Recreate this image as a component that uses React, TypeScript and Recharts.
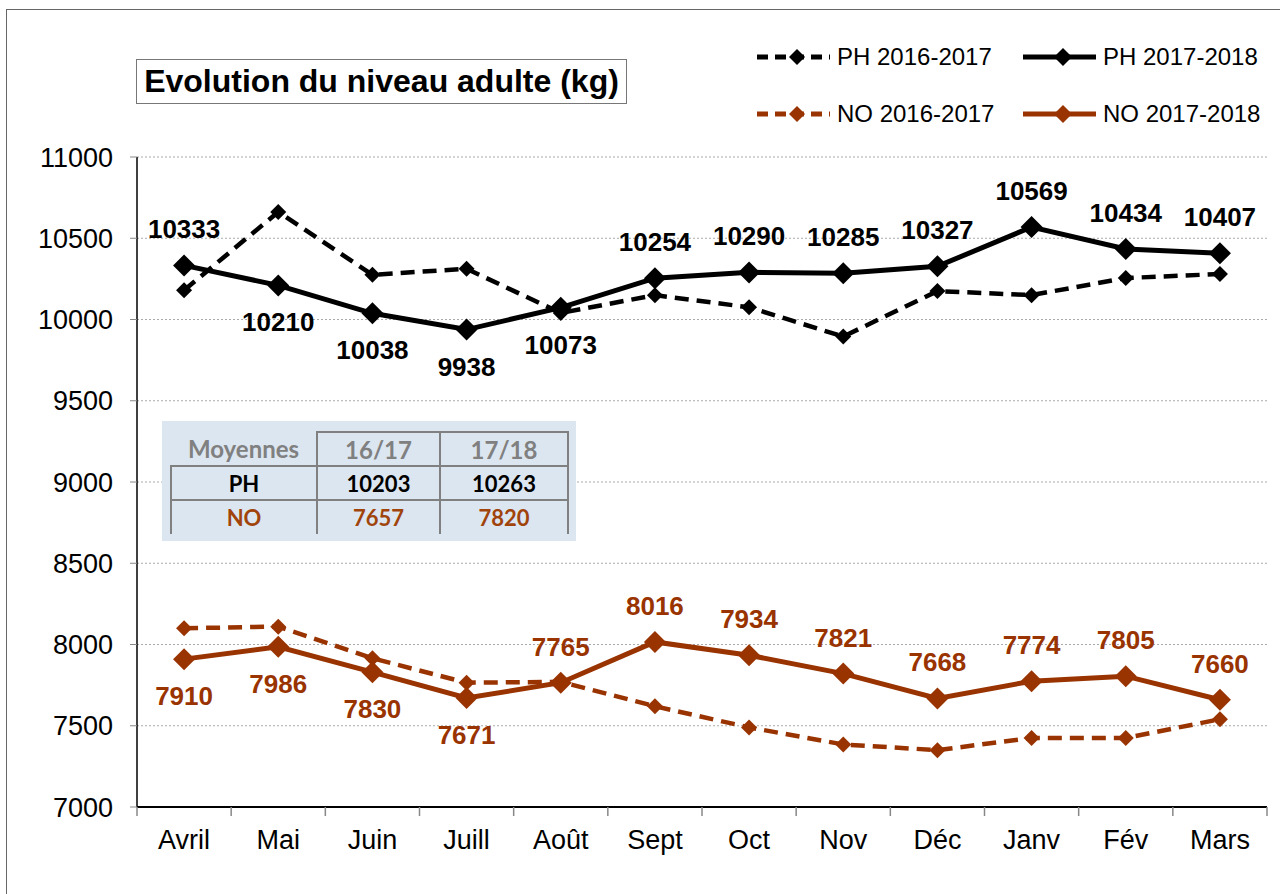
import { LineChart, Line, XAxis, YAxis, CartesianGrid, LabelList, Legend } from 'recharts'

const MONTHS = ['Avril', 'Mai', 'Juin', 'Juill', 'Août', 'Sept', 'Oct', 'Nov', 'Déc', 'Janv', 'Fév', 'Mars']

const PH_2016 = [10180, 10662, 10275, 10312, 10040, 10150, 10075, 9895, 10175, 10150, 10255, 10280]
const PH_2017 = [10333, 10210, 10038, 9938, 10073, 10254, 10290, 10285, 10327, 10569, 10434, 10407]
const NO_2016 = [8100, 8110, 7915, 7765, 7770, 7620, 7490, 7385, 7350, 7425, 7425, 7540]
const NO_2017 = [7910, 7986, 7830, 7671, 7765, 8016, 7934, 7821, 7668, 7774, 7805, 7660]

const Y_TICKS = [7000, 7500, 8000, 8500, 9000, 9500, 10000, 10500, 11000]

const AVG_HEAD = ['Moyennes', '16/17', '17/18']
const AVG_PH = [10203, 10263]
const AVG_NO = [7657, 7820]

// which points get their label under the marker
const PH_BELOW = [1, 2, 3, 4]
const NO_BELOW = [0, 1, 2, 3]

const BROWN = '#993300'
const W = 1280
const H = 894
const M = { top: 157, right: 13, bottom: 27, left: 0 }
const Y_W = 137
const X_H = 60
const BAND = (W - M.left - Y_W - M.right) / MONTHS.length

const SERIES = [
  { key: 'ph16', name: 'PH 2016-2017', color: '#000', dashed: true },
  { key: 'ph17', name: 'PH 2017-2018', color: '#000', dashed: false },
  { key: 'no16', name: 'NO 2016-2017', color: BROWN, dashed: true },
  { key: 'no17', name: 'NO 2017-2018', color: BROWN, dashed: false },
]

const data = MONTHS.map((m, i) => ({
  month: m,
  ph16: PH_2016[i],
  ph17: PH_2017[i],
  no16: NO_2016[i],
  no17: NO_2017[i],
}))

const FONT = '"Liberation Sans", Arial, sans-serif'

const diamond = (r: number, color: string) => (props: any) => {
  const { cx, cy, index } = props
  if (cx == null || cy == null) return <g key={index} />
  return <path key={index} d={`M${cx},${cy - r}L${cx + r},${cy}L${cx},${cy + r}L${cx - r},${cy}Z`} fill={color} />
}

const valueLabel = (color: string, below: number[]) => (props: any) => {
  const { x, y, value, index } = props
  const dy = below.includes(index) ? 46 : -27
  return (
    <text key={index} x={x} y={y + dy} textAnchor="middle" fill={color} fontSize={26} fontWeight="bold" fontFamily={FONT}>
      {value}
    </text>
  )
}

function MonthTick(props: any) {
  const { x, y, payload, index } = props
  const left = x - BAND / 2
  return (
    <g>
      <line x1={left} y1={y} x2={left} y2={y + 9} stroke="#888" strokeWidth={1.5} />
      {index === MONTHS.length - 1 && (
        <line x1={x + BAND / 2} y1={y} x2={x + BAND / 2} y2={y + 9} stroke="#888" strokeWidth={1.5} />
      )}
      <text x={x} y={y + 42} textAnchor="middle" fill="#000" fontSize={27} fontFamily={FONT}>
        {payload.value}
      </text>
    </g>
  )
}

function LegendBox() {
  return (
    <div style={{ display: 'grid', gridTemplateColumns: '266px 240px', rowGap: 23, fontFamily: FONT }}>
      {SERIES.map((s) => {
        const r = s.dashed ? 8 : 9
        return (
          <div key={s.key} style={{ display: 'flex', alignItems: 'center', height: 34 }}>
            <svg width={74} height={20}>
              <line x1={0} y1={10} x2={73} y2={10} stroke={s.color} strokeWidth={5}
                strokeDasharray={s.dashed ? '11 7' : undefined} />
              <path d={`M40,${10 - r}L${40 + r},10L40,${10 + r}L${40 - r},10Z`} fill={s.color} />
            </svg>
            <span style={{ marginLeft: 6, fontSize: 24, color: '#000', whiteSpace: 'nowrap' }}>{s.name}</span>
          </div>
        )
      })}
    </div>
  )
}

const cell = (extra: any) => ({
  fontFamily: 'Lato, "Open Sans", sans-serif',
  fontWeight: 700,
  fontSize: 22,
  textAlign: 'center' as const,
  height: 34,
  padding: 0,
  boxSizing: 'border-box' as const,
  ...extra,
})

function AverageTable() {
  const bd = '2px solid #808080'
  return (
    <div style={{ position: 'absolute', left: 162, top: 421, width: 414, height: 120, background: '#dce6f1' }}>
      <table style={{ position: 'absolute', left: 8, top: 10, borderCollapse: 'collapse', tableLayout: 'fixed' }}>
        <tbody>
          <tr>
            <td style={cell({ width: 146, color: '#808080', borderBottom: bd, fontSize: 24 })}>{AVG_HEAD[0]}</td>
            <td style={cell({ width: 123, color: '#808080', border: bd, fontSize: 24 })}>{AVG_HEAD[1]}</td>
            <td style={cell({ width: 128, color: '#808080', border: bd, fontSize: 24 })}>{AVG_HEAD[2]}</td>
          </tr>
          <tr>
            <td style={cell({ color: '#000', borderLeft: bd, borderRight: bd, borderBottom: bd })}>PH</td>
            {AVG_PH.map((v, i) => (
              <td key={i} style={cell({ color: '#000', borderRight: bd, borderBottom: bd })}>{v}</td>
            ))}
          </tr>
          <tr>
            <td style={cell({ color: '#a0440c', borderLeft: bd, borderRight: bd })}>NO</td>
            {AVG_NO.map((v, i) => (
              <td key={i} style={cell({ color: '#a0440c', borderRight: bd })}>{v}</td>
            ))}
          </tr>
        </tbody>
      </table>
    </div>
  )
}

export default function App() {
  return (
    <div style={{ position: 'absolute', left: 0, top: 0, width: W, height: H, background: '#fff', overflow: 'hidden', fontFamily: FONT }}>
      <div style={{ position: 'absolute', left: 6, top: 9, width: W, height: H, borderLeft: '1.5px solid #666', borderTop: '1.5px solid #666' }} />
      <LineChart width={W} height={H} data={data} margin={M}>
        <CartesianGrid vertical={false} stroke="#aaa" strokeDasharray="2 2" />
        <XAxis dataKey="month" height={X_H} interval={0} tickSize={0} tickMargin={0} tickLine={false}
          padding={{ left: BAND / 2, right: BAND / 2 }}
          axisLine={{ stroke: '#000', strokeWidth: 2 }} tick={<MonthTick />} />
        <YAxis width={Y_W} domain={[7000, 11000]} ticks={Y_TICKS} interval={0} tickSize={7} tickMargin={17}
          tickLine={{ stroke: '#888' }} axisLine={{ stroke: '#000', strokeWidth: 1.5 }}
          tick={{ fill: '#000', fontSize: 27, fontFamily: FONT }} />
        <Legend layout="vertical" align="center" verticalAlign="middle"
          wrapperStyle={{ left: 757, top: 40, width: 520, height: 100 }} content={() => <LegendBox />} />
        <Line dataKey="ph16" name="PH 2016-2017" stroke="#000" strokeWidth={4.5} strokeDasharray="14 8"
          dot={diamond(8, '#000')} activeDot={false} isAnimationActive={false} />
        <Line dataKey="no16" name="NO 2016-2017" stroke={BROWN} strokeWidth={4.5} strokeDasharray="14 8"
          dot={diamond(8, BROWN)} activeDot={false} isAnimationActive={false} />
        <Line dataKey="ph17" name="PH 2017-2018" stroke="#000" strokeWidth={5}
          dot={diamond(11, '#000')} activeDot={false} isAnimationActive={false}>
          <LabelList dataKey="ph17" content={valueLabel('#000', PH_BELOW)} />
        </Line>
        <Line dataKey="no17" name="NO 2017-2018" stroke={BROWN} strokeWidth={5}
          dot={diamond(11, BROWN)} activeDot={false} isAnimationActive={false}>
          <LabelList dataKey="no17" content={valueLabel(BROWN, NO_BELOW)} />
        </Line>
      </LineChart>
      <div style={{
        position: 'absolute', left: 136, top: 59, width: 491, height: 45, boxSizing: 'border-box',
        border: '1.5px solid #777', display: 'flex', alignItems: 'center', justifyContent: 'center',
        fontSize: 32, fontWeight: 'bold', color: '#000', whiteSpace: 'nowrap',
      }}>
        Evolution du niveau adulte (kg)
      </div>
      <AverageTable />
    </div>
  )
}
